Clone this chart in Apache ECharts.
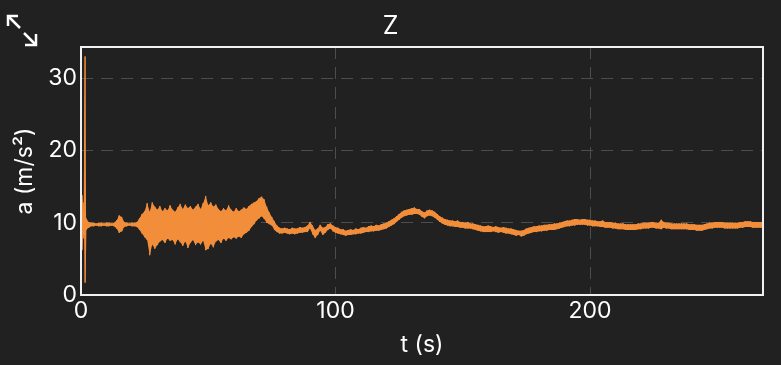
<!DOCTYPE html>
<html>
<head>
<meta charset="utf-8">
<script src="https://cdn.jsdelivr.net/npm/echarts@6/dist/echarts.min.js"></script>
<style>
html,body{margin:0;padding:0;background:#212121;}
#c{width:781px;height:365px;}
</style>
</head>
<body>
<div id="c"></div>
<script>
// Sample times (s): a few early samples around the impact spike, then every second
const earlyTimes = [0, 0.4, 0.8, 1.2, 1.6];
const firstSecond = 2, lastSecond = 268;

// Upper envelope of the acceleration band (m/s²), one per sample time
const hiEarly = [12.5, 13.8, 12.8, 11.5, 33.0];
const hiCalm1 = [10.6,10.1,10.0,10.0,9.9,10.0,10.0,9.9,10.0,10.0, 9.9,10.0,10.3,11.0,10.8,10.1,10.0,9.9,10.0,10.0];
const hiNoisy = [10.1,10.6,11.2,11.6,12.7,11.5,12.8,12.2,11.8,12.3, 11.6,12.0,11.7,12.4,11.8,11.5,12.1,12.6,11.9,12.5,
                 12.0,12.3,11.8,12.2,12.6,11.9,12.7,13.7,12.4,12.8, 12.2,12.5,11.9,11.6,12.0,11.7,12.4,11.8,11.5,12.0,
                 11.6,11.8,12.1,11.9,12.3,12.6,12.8,13.0,13.4,13.6, 13.2,12.2,11.4,10.8,10.2,9.6,9.3,9.2,9.3];
const hiCalm2 = [9.2,9.1,9.3,9.2,9.2,9.4,9.3,9.4,9.6,10.1, 9.6,9.0,9.2,9.7,9.3,9.4,9.8,9.9,9.6,9.4,
                 9.3,9.1,9.1,8.9,9.0,9.1,9.0,9.2,9.1,9.3, 9.4,9.3,9.5,9.6,9.5,9.7,9.6,9.8,9.9,10.0,
                 10.2,10.4,10.6,10.9,11.2,11.5,11.7,11.8,11.9,12.0, 12.1,11.9,11.9,11.6,11.4,11.7,11.8,11.7,11.5,11.2,
                 10.9,10.7,10.5,10.4,10.3,10.3,10.2,10.3,10.1,10.1, 10.0,10.1,9.9,9.9,9.8,9.7,9.6,9.5,9.5,9.6,
                 9.5,9.4,9.5,9.4,9.3,9.4,9.3,9.2,9.2,9.1, 9.0,8.9,8.9,9.0,9.2,9.3,9.4,9.5,9.5,9.6,
                 9.6,9.7,9.7,9.8,9.8,9.9,9.9,10.0,10.1,10.2, 10.3,10.3,10.4,10.5,10.5,10.4,10.5,10.5,10.4,10.4,
                 10.3,10.3,10.2,10.2,10.3,10.1,10.1,10.1,10.0,10.0, 9.9,9.9,9.9,9.8,9.8,9.8,9.8,9.8,9.9,9.9,
                 10.0,10.0,10.0,10.1,10.1,10.0,10.0,10.4,10.1,10.0, 10.0,9.9,9.9,9.9,9.9,9.9,9.9,9.9,9.8,9.8,
                 9.8,9.7,9.7,9.7,9.8,9.9,10.0,10.0,10.1,10.1, 10.1,10.1,10.0,10.0,10.0,10.0,10.0,10.0,10.1,10.1,
                 10.2,10.2,10.2,10.1,10.1,10.1,10.1,10.1];

// Lower envelope of the acceleration band (m/s²)
const loEarly = [7.2, 6.2, 7.8, 8.5, 1.7];
const loCalm1 = [9.0,9.3,9.5,9.5,9.6,9.5,9.5,9.6,9.5,9.5, 9.6,9.5,9.2,8.6,8.8,9.4,9.5,9.6,9.5,9.5];
const loNoisy = [9.4,9.0,8.5,8.0,7.6,5.5,7.0,6.4,6.9,7.4, 7.6,7.2,7.8,7.5,7.6,7.0,7.7,7.3,6.8,7.4,
                 6.5,7.2,7.6,6.9,7.3,7.0,7.5,6.2,6.4,7.1, 6.6,7.4,7.6,7.2,7.8,7.5,7.9,7.7,8.0,7.8,
                 8.1,7.9,8.4,8.6,8.9,9.4,9.8,10.3,10.6,10.9, 10.5,10.0,9.8,9.6,9.0,8.7,8.5,8.5,8.6];
const loCalm2 = [8.5,8.4,8.5,8.4,8.5,8.6,8.6,8.7,8.7,9.2, 8.4,7.9,8.3,8.9,8.3,8.6,9.0,9.2,8.8,8.6,
                 8.5,8.4,8.3,8.2,8.3,8.3,8.4,8.4,8.5,8.5, 8.6,8.7,8.7,8.8,8.8,8.9,8.9,9.0,9.1,9.2,
                 9.4,9.6,9.8,10.1,10.4,10.7,10.9,11.0,11.1,11.1, 11.2,11.2,11.1,10.8,10.6,10.9,11.0,10.9,10.7,10.4,
                 10.1,9.9,9.7,9.6,9.5,9.5,9.4,9.4,9.3,9.3, 9.2,9.2,9.2,9.1,9.0,8.9,8.8,8.7,8.7,8.7,
                 8.7,8.8,8.7,8.6,8.7,8.6,8.5,8.5,8.4,8.3, 8.2,8.3,8.1,8.2,8.4,8.5,8.6,8.7,8.7,8.8,
                 8.8,8.9,8.9,9.0,9.0,9.0,9.1,9.2,9.3,9.4, 9.5,9.5,9.6,9.6,9.7,9.7,9.7,9.7,9.6,9.6,
                 9.5,9.5,9.5,9.4,9.4,9.3,9.3,9.3,9.2,9.2, 9.1,9.1,9.1,9.0,9.0,9.0,9.0,9.0,9.1,9.1,
                 9.2,9.2,9.2,9.3,9.3,9.2,9.2,9.1,9.3,9.2, 9.2,9.1,9.1,9.1,9.1,9.1,9.1,9.1,9.0,9.0,
                 9.0,8.9,8.9,8.9,9.0,9.1,9.2,9.2,9.3,9.3, 9.3,9.3,9.2,9.2,9.2,9.2,9.2,9.2,9.3,9.3,
                 9.4,9.4,9.4,9.3,9.3,9.3,9.3,9.3];

const xTicks = [0, 100, 200];
const yTicks = [0, 10, 20, 30];
const xMax = 268, yMax = 34.3;

const times = earlyTimes.slice();
for (let s = firstSecond; s <= lastSecond; s++) times.push(s);
const hi = hiEarly.concat(hiCalm1, hiNoisy, hiCalm2);
const lo = loEarly.concat(loCalm1, loNoisy, loCalm2);

const zig = [];
for (let i = 0; i < times.length; i++) {
  zig.push([times[i], hi[i]]);
  zig.push([times[i], lo[i]]);
}
// band rows: [t, lo, hi]
const band = times.map((t, i) => [t, lo[i], hi[i]]);

const orange = '#F28E3B';
const chart = echarts.init(document.getElementById('c'), null, {renderer: 'canvas'});
const font = 'Inter, "Noto Sans", sans-serif';
const gridLine = {show: true, showMinLine: false, showMaxLine: false,
  lineStyle: {color: '#4d4d4d', type: [12, 8], width: 1}};

function renderBand(params, api) {
  if (params.dataIndex !== 0) return null;
  const top = [], bottom = [];
  for (let i = 0; i < band.length; i++) {
    top.push(api.coord([band[i][0], band[i][2]]));
    bottom.push(api.coord([band[i][0], band[i][1]]));
  }
  const pts = top.concat(bottom.reverse());
  return {type: 'polygon', shape: {points: pts}, style: {fill: orange, stroke: null}};
}

chart.setOption({
  backgroundColor: '#212121',
  animation: false,
  title: {
    text: 'Z', left: 'center', top: 9,
    textStyle: {color: '#ffffff', fontSize: 25, fontWeight: 'normal', fontFamily: font}
  },
  grid: {left: 81, right: 18, top: 47, bottom: 70, show: false},
  xAxis: {
    type: 'value', min: 0, max: xMax, interval: 100,
    name: 't (s)', nameLocation: 'middle', nameGap: 39,
    nameTextStyle: {color: '#ffffff', fontSize: 23, fontFamily: font},
    axisLine: {show: false}, axisTick: {show: false},
    axisLabel: {color: '#ffffff', fontSize: 23, fontFamily: font, margin: 5, showMaxLabel: false,
      formatter: v => xTicks.includes(v) ? String(v) : ''},
    splitLine: gridLine
  },
  yAxis: {
    type: 'value', min: 0, max: yMax, interval: 10,
    name: 'a (m/s²)', nameLocation: 'middle', nameGap: 44,
    nameTextStyle: {color: '#ffffff', fontSize: 23, fontFamily: font},
    axisLine: {show: false}, axisTick: {show: false},
    axisLabel: {color: '#ffffff', fontSize: 23, fontFamily: font, margin: 4, showMaxLabel: false,
      formatter: v => yTicks.includes(v) ? String(v) : ''},
    splitLine: gridLine
  },
  graphic: [
    {type: 'rect', z: 100, shape: {x: 81, y: 47, width: 682, height: 248},
      style: {stroke: '#f0f0f0', lineWidth: 2, fill: null}},
    {type: 'polyline', shape: {points: [[18, 16], [8, 16], [8, 26]]}, style: {stroke: '#fff', lineWidth: 2.5, fill: null}},
    {type: 'line', shape: {x1: 8, y1: 16, x2: 20, y2: 28}, style: {stroke: '#fff', lineWidth: 2.5}},
    {type: 'polyline', shape: {points: [[25, 45], [36, 45], [36, 34]]}, style: {stroke: '#fff', lineWidth: 2.5, fill: null}},
    {type: 'line', shape: {x1: 24, y1: 33, x2: 36, y2: 45}, style: {stroke: '#fff', lineWidth: 2.5}}
  ],
  series: [
    {type: 'custom', data: band, renderItem: renderBand, silent: true, clip: true,
      encode: {x: 0, y: [1, 2]}},
    {type: 'line', data: zig, showSymbol: false, sampling: null,
      lineStyle: {color: orange, width: 1}, itemStyle: {color: orange}}
  ]
});
</script>
</body>
</html>
